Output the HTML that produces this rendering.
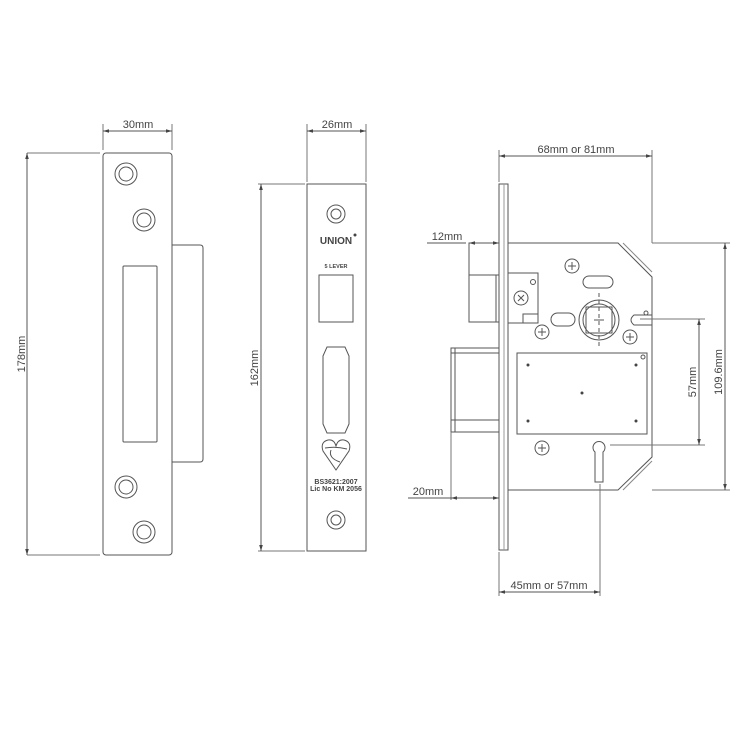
<!DOCTYPE html>
<html><head><meta charset="utf-8"><style>
html,body{margin:0;padding:0;background:#fff;}
svg{display:block}
text{font-family:"Liberation Sans",sans-serif;fill:#444;}
</style></head><body>
<svg width="750" height="750" viewBox="0 0 750 750" xmlns="http://www.w3.org/2000/svg">
<defs>
<marker id="a" viewBox="0 0 10 10" refX="10" refY="5" markerWidth="6" markerHeight="6" orient="auto-start-reverse"><path d="M0,2L10,5L0,8z" fill="#444"/></marker>
</defs>
<g fill="none" stroke="#555" stroke-width="1">
<rect x="103" y="153" width="69" height="402" rx="3"/>
<path d="M172,245H200q3,0 3,3V459q0,3-3,3H172"/>
<rect x="123" y="266" width="34" height="176" rx="1"/>
<circle cx="126" cy="174" r="11"/><circle cx="126" cy="174" r="7"/>
<circle cx="144" cy="220" r="11"/><circle cx="144" cy="220" r="7"/>
<circle cx="126" cy="487" r="11"/><circle cx="126" cy="487" r="7"/>
<circle cx="144" cy="532" r="11"/><circle cx="144" cy="532" r="7"/>
<line x1="27" y1="153" x2="100" y2="153" stroke="#777"/>
<line x1="27" y1="555" x2="100" y2="555" stroke="#777"/>
<line x1="27" y1="153" x2="27" y2="555" marker-start="url(#a)" marker-end="url(#a)"/>
<line x1="103" y1="124" x2="103" y2="150" stroke="#777"/>
<line x1="172" y1="124" x2="172" y2="150" stroke="#777"/>
<line x1="103" y1="131" x2="172" y2="131" marker-start="url(#a)" marker-end="url(#a)"/>
<rect x="307" y="184" width="59" height="367"/>
<line x1="307" y1="124" x2="307" y2="182" stroke="#777"/>
<line x1="366" y1="124" x2="366" y2="182" stroke="#777"/>
<line x1="307" y1="131" x2="366" y2="131" marker-start="url(#a)" marker-end="url(#a)"/>
<line x1="258" y1="184" x2="305" y2="184" stroke="#777"/>
<line x1="258" y1="551" x2="305" y2="551" stroke="#777"/>
<line x1="261" y1="184" x2="261" y2="551" marker-start="url(#a)" marker-end="url(#a)"/>
<circle cx="336" cy="214" r="9"/><circle cx="336" cy="214" r="5"/>
<circle cx="336" cy="520" r="9"/><circle cx="336" cy="520" r="5"/>
<rect x="319" y="275" width="34" height="47"/>
<path d="M327,347H345L349,356V424L345,433H327L323,424V356Z"/>
<path d="M336,470L323,451Q320,442 328,440Q334,439 336,446Q338,439 344,440Q352,442 349,451Z"/>
<path d="M325,448Q336,446 347,449M331,450Q328,458 340,462"/>
<rect x="499" y="184" width="9" height="366"/>
<line x1="504" y1="184" x2="504" y2="550" stroke="#999"/>
<path d="M508,243H618L652,277V457L618,490H508"/>
<path d="M623,243L652,272M623,490L652,461" stroke="#888"/>
<rect x="469" y="243" width="30" height="79"/>
<line x1="469" y1="275" x2="499" y2="275"/>
<line x1="496" y1="275" x2="496" y2="322"/>
<rect x="451" y="348" width="48" height="84"/>
<line x1="451" y1="353" x2="499" y2="353"/><line x1="451" y1="420" x2="499" y2="420"/>
<line x1="455" y1="348" x2="455" y2="432"/>
<path d="M508,273H538V323H508"/>
<path d="M523,323V314H538" />
<circle cx="533" cy="282" r="2.5"/>
<circle cx="521" cy="298" r="7"/>
<path d="M518,295L524,301M524,295L518,301"/>
<rect x="517" y="353" width="130" height="81"/>
<circle cx="599" cy="320" r="20"/><circle cx="599" cy="320" r="16"/>
<rect x="586" y="307" width="26" height="26"/>
<line x1="599" y1="293" x2="599" y2="347" stroke-dasharray="4,3"/>
<line x1="594" y1="320" x2="604" y2="320"/>
<rect x="551" y="313" width="24" height="13" rx="6.5"/>
<rect x="583" y="276" width="30" height="12" rx="6"/>
<path d="M652,315H634Q628,320 634,325H652"/>
<circle cx="646" cy="313" r="2"/><circle cx="643" cy="357" r="2"/>
<circle cx="572" cy="266" r="7"/><circle cx="542" cy="332" r="7"/><circle cx="630" cy="337" r="7"/><circle cx="542" cy="448" r="7"/>
<path d="M568,266H576M572,262V270M538,332H546M542,328V336M626,337H634M630,333V341M538,448H546M542,444V452"/>
<path d="M595,452A6,6 0 1 1 603,452V482H595Z"/>
<line x1="499" y1="150" x2="499" y2="182" stroke="#777"/>
<line x1="652" y1="150" x2="652" y2="243" stroke="#777"/>
<line x1="499" y1="156" x2="652" y2="156" marker-start="url(#a)" marker-end="url(#a)"/>
<line x1="427" y1="243" x2="466" y2="243"/>
<line x1="469" y1="243" x2="499" y2="243" marker-start="url(#a)" marker-end="url(#a)"/>
<line x1="451" y1="432" x2="451" y2="500" stroke="#777"/>
<line x1="408" y1="498" x2="451" y2="498"/>
<line x1="451" y1="498" x2="499" y2="498" marker-start="url(#a)" marker-end="url(#a)"/>
<line x1="499" y1="552" x2="499" y2="596" stroke="#777"/>
<line x1="600" y1="484" x2="600" y2="596" stroke="#777"/>
<line x1="499" y1="592" x2="600" y2="592" marker-start="url(#a)" marker-end="url(#a)"/>
<line x1="640" y1="319" x2="705" y2="319" stroke="#777"/>
<line x1="610" y1="445" x2="705" y2="445" stroke="#777"/>
<line x1="699" y1="319" x2="699" y2="445" marker-start="url(#a)" marker-end="url(#a)"/>
<line x1="652" y1="243" x2="730" y2="243" stroke="#777"/>
<line x1="652" y1="490" x2="730" y2="490" stroke="#777"/>
<line x1="725" y1="243" x2="725" y2="490" marker-start="url(#a)" marker-end="url(#a)"/>
</g>
<g fill="#444">
<circle cx="528" cy="365" r="1.5"/><circle cx="636" cy="365" r="1.5"/><circle cx="582" cy="393" r="1.5"/><circle cx="528" cy="421" r="1.5"/><circle cx="636" cy="421" r="1.5"/>
</g>
<g font-size="11">
<text x="138" y="128" text-anchor="middle">30mm</text>
<text x="337" y="128" text-anchor="middle">26mm</text>
<text x="576" y="153" text-anchor="middle">68mm or 81mm</text>
<text x="447" y="240" text-anchor="middle">12mm</text>
<text x="428" y="495" text-anchor="middle">20mm</text>
<text x="549" y="589" text-anchor="middle">45mm or 57mm</text>
<text transform="translate(25,354) rotate(-90)" text-anchor="middle">178mm</text>
<text transform="translate(258,368) rotate(-90)" text-anchor="middle">162mm</text>
<text transform="translate(696,382) rotate(-90)" text-anchor="middle">57mm</text>
<text transform="translate(722,372) rotate(-90)" text-anchor="middle">109.6mm</text>
</g>
<text x="336" y="244" text-anchor="middle" font-size="10" font-weight="bold">UNION</text>
<circle cx="355" cy="235" r="1.5" fill="#444"/>
<text x="336" y="268" text-anchor="middle" font-size="5.5" font-weight="bold">5 LEVER</text>
<text x="336" y="484" text-anchor="middle" font-size="7" font-weight="bold">BS3621:2007</text>
<text x="336" y="491" text-anchor="middle" font-size="7" font-weight="bold">Lic No KM 2056</text>
</svg>
</body></html>
